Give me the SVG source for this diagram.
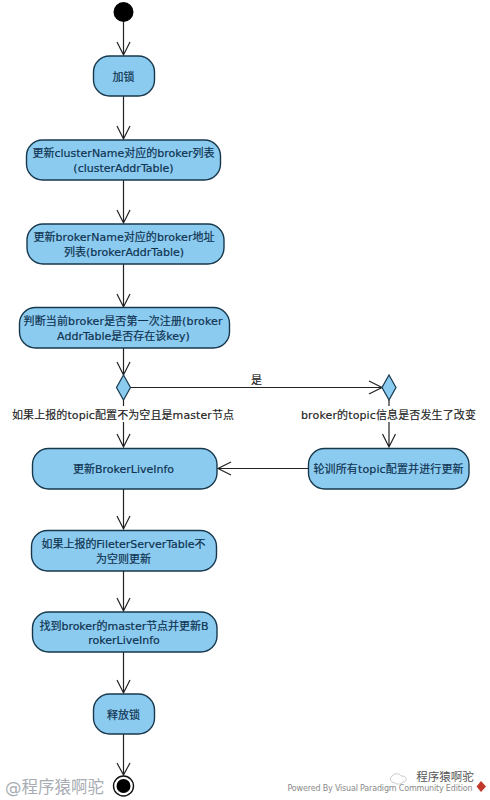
<svg xmlns="http://www.w3.org/2000/svg" width="490" height="800" viewBox="0 0 490 800">
<style>
text{font-family:"DejaVu Sans","Noto Sans CJK SC",sans-serif;font-size:11px;text-anchor:middle}
.n rect{fill:#8ccbf0;stroke:#17384c;stroke-width:1.4}
.n text{fill:#0f3350;stroke:#0f3350;stroke-width:.2}
.d{fill:#8ccbf0;stroke:#17384c;stroke-width:1.2}
.l{fill:#222;stroke:#222;stroke-width:.15}
.c path{fill:none;stroke:#222;stroke-width:1.2}
</style>
<rect width="490" height="800" fill="#fff"/>
<g id="connectors" class="c">
<path d="M123.500 22V55M117 42L123.500 55L130 42"/>
<path d="M123.500 96V139M117 126L123.500 139L130 126"/>
<path d="M123.500 180V223M117 210L123.500 223L130 210"/>
<path d="M123.500 264V307M117 294L123.500 307L130 294"/>
<path d="M123.500 348V375M117 362L123.500 375L130 362"/>
<path d="M123.500 400V406M123.500 422V447M117 434L123.500 447L130 434"/>
<path d="M131 387.500H382M369 381L382 387.500L369 394"/>
<path d="M389 400V406M389 422V447M382.500 434L389 447L395.500 434"/>
<path d="M308 468.500H218M231 462L218 468.500L231 475"/>
<path d="M123.500 489V529M117 516L123.500 529L130 516"/>
<path d="M123.500 571V611M117 598L123.500 611L130 598"/>
<path d="M123.500 652V693M117 680L123.500 693L130 680"/>
<path d="M123.500 734V775M117 763L123.500 775L130 763"/>
</g>
<g id="start"><circle cx="123.500" cy="12" r="10" fill="#000"/></g>
<g id="lock" class="n"><rect x="93.500" y="56" width="61" height="40" rx="16"/><text x="123.500" y="81">加锁</text></g>
<g id="cluster" class="n"><rect x="26.500" y="140" width="194" height="40" rx="16"/><text x="123.500" y="157" textLength="182" lengthAdjust="spacing">更新clusterName对应的broker列表</text><text x="123.500" y="172">(clusterAddrTable)</text></g>
<g id="broker" class="n"><rect x="27" y="224" width="197" height="40" rx="16"/><text x="124" y="241" textLength="181" lengthAdjust="spacing">更新brokerName对应的broker地址</text><text x="124" y="256">列表(brokerAddrTable)</text></g>
<g id="judge" class="n"><rect x="19.500" y="307.500" width="210" height="40.500" rx="16"/><text x="123" y="325" textLength="199" lengthAdjust="spacing">判断当前broker是否第一次注册(broker</text><text x="123.500" y="340">AddrTable是否存在该key)</text></g>
<g id="decision1"><polygon class="d" points="123.500,375 130.500,387.500 123.500,400 116.500,387.500"/></g>
<g id="decision2"><polygon class="d" points="389,375 396,387.500 389,400 382,387.500"/></g>
<g id="label-yes"><text class="l" x="256.500" y="384">是</text></g>
<g id="label-left"><text class="l" x="123" y="419" textLength="222" lengthAdjust="spacing">如果上报的topic配置不为空且是master节点</text></g>
<g id="label-right"><text class="l" x="388.500" y="419" textLength="175" lengthAdjust="spacing">broker的topic信息是否发生了改变</text></g>
<g id="update" class="n"><rect x="32.500" y="448.500" width="184.500" height="40.500" rx="16"/><text x="123.500" y="473">更新BrokerLiveInfo</text></g>
<g id="poll" class="n"><rect x="308.500" y="448.500" width="160.500" height="40.500" rx="16"/><text x="388.500" y="473" textLength="150" lengthAdjust="spacing">轮训所有topic配置并进行更新</text></g>
<g id="filter" class="n"><rect x="31.500" y="530.500" width="185" height="40.500" rx="16"/><text x="123.500" y="548" textLength="164" lengthAdjust="spacing">如果上报的FileterServerTable不</text><text x="123.500" y="563">为空则更新</text></g>
<g id="master" class="n"><rect x="32.500" y="612" width="184.500" height="40" rx="16"/><text x="124" y="630" textLength="169" lengthAdjust="spacing">找到broker的master节点并更新B</text><text x="124" y="644">rokerLiveInfo</text></g>
<g id="release" class="n"><rect x="93.500" y="694" width="61" height="40" rx="16"/><text x="123.500" y="719">释放锁</text></g>
<g id="end"><circle cx="123.500" cy="786" r="10" fill="#fff" stroke="#111" stroke-width="1.4"/><circle cx="123.500" cy="786" r="7" fill="#000"/></g>
<g id="watermarks">
<text x="54.500" y="793" style="font-size:16.500px;fill:#a8adb3">@程序猿啊驼</text>
<text x="380" y="791" style="font-size:8px;fill:#8a8a8a" textLength="185" lengthAdjust="spacing">Powered By Visual Paradigm Community Edition</text>
<text x="445" y="781" style="font-size:11.500px;fill:#555">程序猿啊驼</text>
<path d="M392 776a5 4 0 0 1 9 0a4 3 0 0 1 2 6a5 4 0 0 1-8 1a5 4 0 0 1-3-7z" fill="#fff" stroke="#ccc"/>
<path d="M481 781l5 5.500-5 5.500-4.500-5.500z" fill="#c0392b"/>
</g>
</svg>
